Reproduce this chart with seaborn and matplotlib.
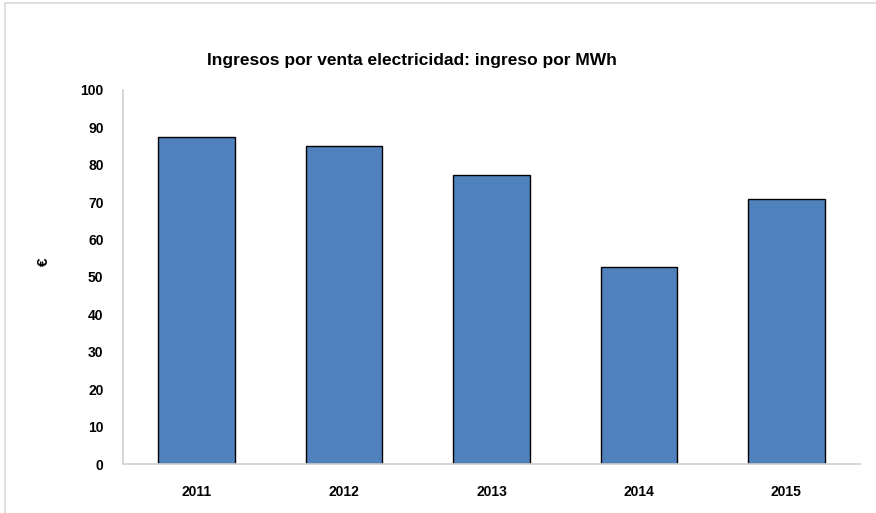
import pandas as pd
import matplotlib.pyplot as plt
import seaborn as sns
from matplotlib.patches import Rectangle

# --- Data ---
years = ['2011', '2012', '2013', '2014', '2015']
ingreso_mwh = [87.5, 85.0, 77.3, 52.8, 70.9]
y_ticks = [0, 10, 20, 30, 40, 50, 60, 70, 80, 90, 100]

df = pd.DataFrame({'year': years, 'value': ingreso_mwh})

sns.set_style('white')
plt.rcParams['font.family'] = ['Liberation Sans', 'DejaVu Sans']
plt.rcParams['text.color'] = 'black'
plt.rcParams['xtick.color'] = 'black'
plt.rcParams['ytick.color'] = 'black'
plt.rcParams['axes.labelcolor'] = 'black'

fig = plt.figure(figsize=(8.76, 5.13), dpi=100)
ax = fig.add_axes([0.1404, 0.0955, 0.8413, 0.7291])

sns.barplot(data=df, x='year', y='value', color='#4F81BD', edgecolor='black',
            linewidth=1.0, width=0.52, saturation=1, ax=ax)

ax.set_ylim(0, 100)
ax.set_yticks(y_ticks)
ax.set_xlim(-0.5, len(years) - 0.5)
ax.tick_params(axis='both', length=0, labelsize=10)
ax.tick_params(axis='x', pad=15)
ax.tick_params(axis='y', pad=14)
for lbl in ax.get_xticklabels() + ax.get_yticklabels():
    lbl.set_fontweight('bold')

ax.set_xlabel('')
ax.set_ylabel('€', fontsize=11, fontweight='bold')
ax.yaxis.set_label_coords(-0.098, 0.54)

for side in ['top', 'right']:
    ax.spines[side].set_visible(False)
for side in ['left', 'bottom']:
    ax.spines[side].set_color('#D0D0D0')
    ax.spines[side].set_linewidth(1.2)

fig.text(0.47, 0.883, 'Ingresos por venta electricidad: ingreso por MWh',
         ha='center', va='center', fontsize=12.5, fontweight='bold')

# light frame around the chart area
fig.patches.append(Rectangle((0.006, -0.01), 1.0, 1.005, transform=fig.transFigure,
                             fill=False, edgecolor='#D9D9D9', linewidth=1.2))

fig.savefig('out.png', dpi=100)
